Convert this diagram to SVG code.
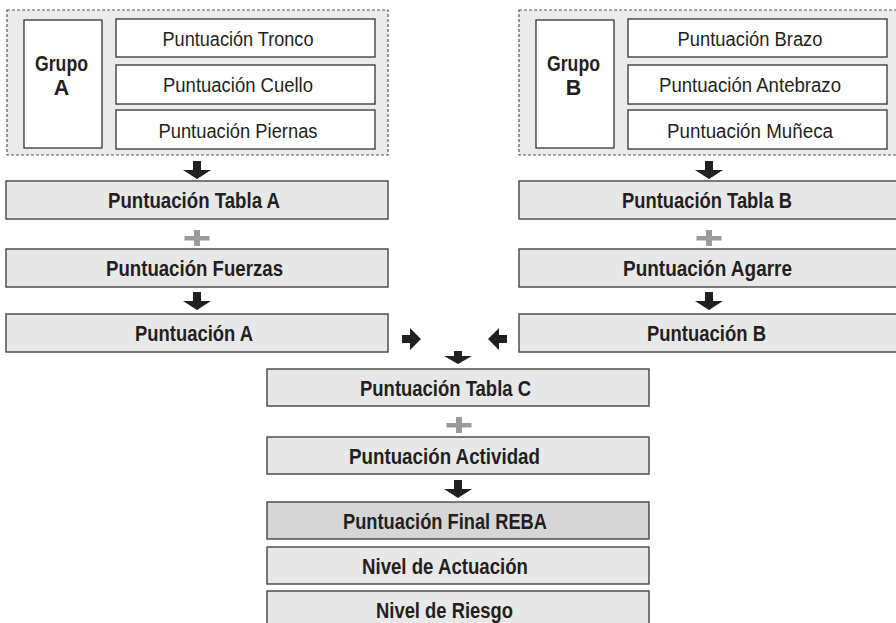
<svg xmlns="http://www.w3.org/2000/svg" width="896" height="623" viewBox="0 0 896 623">
<style>
.grp{fill:#ebebeb;stroke:#555;stroke-width:1.2;stroke-dasharray:3,2}
.wb{fill:#fff;stroke:#333;stroke-width:1.3}
.gb{fill:#e8e8e8;stroke:#444;stroke-width:1.4}
.db{fill:#d6d6d6;stroke:#444;stroke-width:1.4}
text{font-family:"Liberation Sans",Arial,sans-serif;fill:#231f20;text-anchor:middle;font-size:20px}
.b{font-weight:bold;font-size:21.5px}
.arr{fill:#231f20}
.plus{fill:#9a9a9a}
</style>
<defs>
<path id="down" d="M-4,0 H4 V9 H14 L0,18 L-14,9 H-4 Z"/>
<path id="plus" d="M-3,0 H3 V6 H12.5 V10.5 H3 V16 H-3 V10.5 H-12.5 V6 H-3 Z"/>
</defs>

<g id="grupoA">
<rect class="grp" x="7" y="10" width="381" height="145"/>
<rect class="wb" x="24" y="20" width="78" height="128"/>
<text class="b" x="61.5" y="71" textLength="53" lengthAdjust="spacingAndGlyphs">Grupo</text>
<text class="b" x="61.5" y="95" font-size="25">A</text>
</g>
<g id="tronco"><rect class="wb" x="116" y="19" width="259" height="38"/><text x="238" y="45.5" textLength="151" lengthAdjust="spacingAndGlyphs">Puntuación Tronco</text></g>
<g id="cuello"><rect class="wb" x="116" y="65" width="259" height="39"/><text x="238" y="92" textLength="150" lengthAdjust="spacingAndGlyphs">Puntuación Cuello</text></g>
<g id="piernas"><rect class="wb" x="116" y="110" width="259" height="39"/><text x="238" y="137.5" textLength="159" lengthAdjust="spacingAndGlyphs">Puntuación Piernas</text></g>

<g id="grupoB">
<rect class="grp" x="519" y="10" width="381" height="145"/>
<rect class="wb" x="536" y="20" width="78" height="128"/>
<text class="b" x="573.5" y="71" textLength="53" lengthAdjust="spacingAndGlyphs">Grupo</text>
<text class="b" x="573.5" y="95" font-size="25">B</text>
</g>
<g id="brazo"><rect class="wb" x="628" y="19" width="259" height="38"/><text x="750" y="45.5" textLength="145" lengthAdjust="spacingAndGlyphs">Puntuación Brazo</text></g>
<g id="antebrazo"><rect class="wb" x="628" y="65" width="259" height="39"/><text x="750" y="92" textLength="182" lengthAdjust="spacingAndGlyphs">Puntuación Antebrazo</text></g>
<g id="muneca"><rect class="wb" x="628" y="110" width="259" height="39"/><text x="750" y="137.5" textLength="166" lengthAdjust="spacingAndGlyphs">Puntuación Muñeca</text></g>

<g id="tablaA"><rect class="gb" x="6" y="181" width="382" height="38"/><text class="b" x="194" y="208" textLength="172" lengthAdjust="spacingAndGlyphs">Puntuación Tabla A</text></g>
<g id="fuerzas"><rect class="gb" x="6" y="249" width="382" height="38"/><text class="b" x="194.5" y="276" textLength="177" lengthAdjust="spacingAndGlyphs">Puntuación Fuerzas</text></g>
<g id="puntA"><rect class="gb" x="6" y="314" width="382" height="38"/><text class="b" x="194" y="341" textLength="118" lengthAdjust="spacingAndGlyphs">Puntuación A</text></g>

<g id="tablaB"><rect class="gb" x="519" y="181" width="382" height="38"/><text class="b" x="707" y="208" textLength="170" lengthAdjust="spacingAndGlyphs">Puntuación Tabla B</text></g>
<g id="agarre"><rect class="gb" x="519" y="249" width="382" height="38"/><text class="b" x="707.5" y="276" textLength="169" lengthAdjust="spacingAndGlyphs">Puntuación Agarre</text></g>
<g id="puntB"><rect class="gb" x="519" y="314" width="382" height="38"/><text class="b" x="706.5" y="341" textLength="119" lengthAdjust="spacingAndGlyphs">Puntuación B</text></g>

<g id="tablaC"><rect class="gb" x="267" y="369" width="382" height="37"/><text class="b" x="445.5" y="395.5" textLength="171" lengthAdjust="spacingAndGlyphs">Puntuación Tabla C</text></g>
<g id="actividad"><rect class="gb" x="267" y="437" width="382" height="37"/><text class="b" x="444.5" y="463.5" textLength="191" lengthAdjust="spacingAndGlyphs">Puntuación Actividad</text></g>
<g id="final"><rect class="db" x="267" y="502" width="382" height="37"/><text class="b" x="445" y="528.5" textLength="204" lengthAdjust="spacingAndGlyphs">Puntuación Final REBA</text></g>
<g id="actuacion"><rect class="gb" x="267" y="547" width="382" height="37"/><text class="b" x="445" y="573.5" textLength="166" lengthAdjust="spacingAndGlyphs">Nivel de Actuación</text></g>
<g id="riesgo"><rect class="gb" x="267" y="591" width="382" height="37"/><text class="b" x="444.5" y="617.5" textLength="137" lengthAdjust="spacingAndGlyphs">Nivel de Riesgo</text></g>

<g id="connectors">
<use href="#down" class="arr" x="197" y="161"/>
<use href="#plus" class="plus" x="197" y="230"/>
<use href="#down" class="arr" x="197" y="292"/>
<use href="#down" class="arr" x="709" y="161"/>
<use href="#plus" class="plus" x="709" y="230"/>
<use href="#down" class="arr" x="709" y="292"/>
<path class="arr" d="M402,335 H410 V328 L421,339 L410,350 V343 H402 Z"/>
<path class="arr" d="M507,335 H499 V328 L488,339 L499,350 V343 H507 Z"/>
<path class="arr" d="M454,351 H462 V356 H472 L458,364 L444,356 H454 Z"/>
<use href="#plus" class="plus" x="459" y="417"/>
<use href="#down" class="arr" x="458" y="480"/>
</g>
</svg>
